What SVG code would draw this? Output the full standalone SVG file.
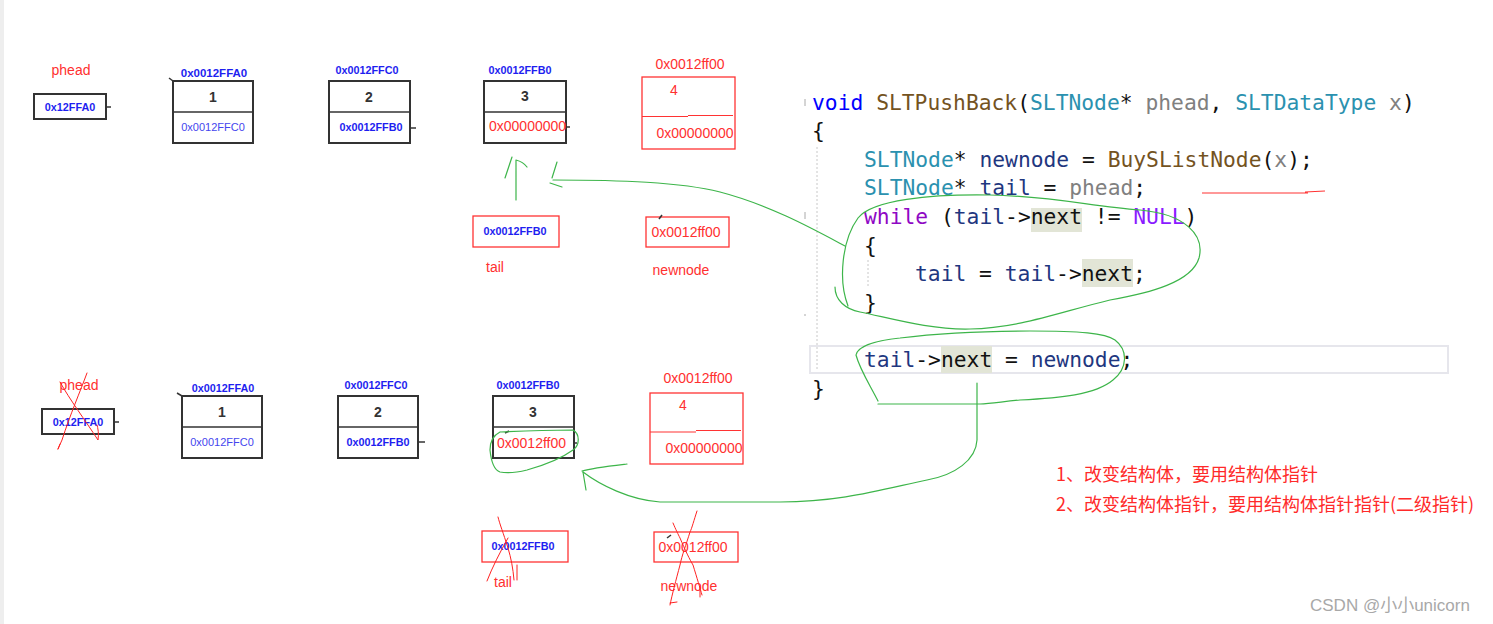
<svg xmlns="http://www.w3.org/2000/svg" width="1493" height="624" viewBox="0 0 1493 624">
<style>
.code{font-family:"DejaVu Sans Mono","Liberation Mono",monospace;font-size:21.3px;fill:#111}
.kw{fill:#0000ff}.fn{fill:#74531f}.ty{fill:#2b91af}.pm{fill:#808080}.lv{fill:#1f377f}.ctl{fill:#8f08c4}.mac{fill:#8a1bff}
.box{fill:none;stroke:#333;stroke-width:2}
.div{stroke:#333;stroke-width:1.6}
.rbox{fill:none;stroke:#f33;stroke-width:1.3}
.rdiv{stroke:#f33;stroke-width:1.2}
.lab{font-family:"Liberation Sans",Arial,sans-serif;font-size:10.8px;font-weight:bold;fill:#1e1ef0;text-anchor:middle}
.addr{font-family:"Liberation Sans",Arial,sans-serif;font-size:11px;fill:#4545ee;text-anchor:middle}
.num{font-family:"Liberation Sans",Arial,sans-serif;font-size:14px;font-weight:bold;fill:#333;text-anchor:middle}
.red{font-family:"Liberation Sans",Arial,sans-serif;font-size:14px;fill:#ff3030}
.mid{text-anchor:middle}
.tick{stroke:#333;stroke-width:1.5}
.g{fill:none;stroke:#3db54a;stroke-width:1.2;stroke-linecap:round}
.x{fill:none;stroke:#f22;stroke-width:1;stroke-linecap:round}
.hl{fill:#e2e5d6}
.cn{font-family:"Noto Sans CJK SC",sans-serif;font-size:18px;fill:#ff2a2a}
</style>
<rect x="0" y="0" width="1493" height="624" fill="#fff"/>
<rect x="0" y="0" width="4" height="624" fill="#eeeeee"/>

<!-- top row -->
<g id="phead-top">
<text class="red mid" x="71" y="75">phead</text>
<rect class="box" x="34" y="94" width="72" height="25"/>
<text class="lab" x="70" y="111">0x12FFA0</text>
<line class="tick" x1="106" y1="107" x2="111" y2="107"/>
</g>
<g id="node1-top">
<text class="lab" x="214" y="77" style="font-size:11.5px">0x0012FFA0</text>
<rect class="box" x="173" y="81" width="80" height="62"/>
<line class="div" x1="173" y1="112" x2="253" y2="112"/>
<path class="tick" d="M169,78 L173,81"/>
<text class="num" x="213" y="102">1</text>
<text class="addr" x="213" y="131">0x0012FFC0</text>
</g>
<g id="node2-top">
<text class="lab" x="367" y="74">0x0012FFC0</text>
<rect class="box" x="329" y="81" width="81" height="62"/>
<line class="div" x1="329" y1="112" x2="410" y2="112"/>
<text class="num" x="369" y="102">2</text>
<text class="lab" x="371" y="131">0x0012FFB0</text>
<line class="tick" x1="410" y1="128" x2="416" y2="128"/>
</g>
<g id="node3-top">
<text class="lab" x="520" y="74">0x0012FFB0</text>
<rect class="box" x="484" y="81" width="82" height="62"/>
<line class="div" x1="484" y1="112" x2="566" y2="112"/>
<text class="num" x="525" y="101">3</text>
<text class="red" x="489" y="131">0x00000000</text>
<line class="tick" x1="566" y1="127" x2="570" y2="127"/>
</g>
<g id="node4-top">
<text class="red mid" x="690" y="69">0x0012ff00</text>
<rect class="rbox" x="642" y="77" width="93" height="72"/>
<path class="rdiv" d="M642,116.5 L688,116.5 M688,115.5 L733,115.5"/>
<text class="red mid" x="674" y="95">4</text>
<text class="red mid" x="695" y="138">0x00000000</text>
</g>
<g id="tail-top">
<rect class="rbox" x="473" y="216" width="86" height="31"/>
<text class="lab" x="515" y="235">0x0012FFB0</text>
<text class="red mid" x="495" y="272">tail</text>
</g>
<g id="newnode-top">
<rect class="rbox" x="646" y="217" width="83" height="30"/>
<path class="tick" d="M659,219 L662,215"/>
<text class="red mid" x="686" y="237">0x0012ff00</text>
<text class="red mid" x="681" y="275">newnode</text>
</g>

<!-- bottom row -->
<g id="phead-bottom">
<text class="red mid" x="79" y="390">phead</text>
<rect class="box" x="42" y="409" width="72" height="25"/>
<text class="lab" x="78" y="426">0x12FFA0</text>
<line class="tick" x1="114" y1="422" x2="119" y2="422"/>
<path class="x" d="M87,373 C80,392 70,415 62,440 L58,449 M58,449 L60,444"/>
<path class="x" d="M60,382 C70,400 85,420 98,440 C99,434 98,428 97,425"/>
</g>
<g id="node1-bottom">
<text class="lab" x="223" y="392">0x0012FFA0</text>
<rect class="box" x="182" y="396" width="80" height="62"/>
<line class="div" x1="182" y1="427" x2="262" y2="427"/>
<path class="tick" d="M177,393 L182,396"/>
<text class="num" x="222" y="417">1</text>
<text class="addr" x="222" y="446">0x0012FFC0</text>
</g>
<g id="node2-bottom">
<text class="lab" x="376" y="389">0x0012FFC0</text>
<rect class="box" x="338" y="396" width="80" height="62"/>
<line class="div" x1="338" y1="427" x2="418" y2="427"/>
<text class="num" x="378" y="417">2</text>
<text class="lab" x="378" y="446">0x0012FFB0</text>
<line class="tick" x1="418" y1="442" x2="425" y2="442"/>
</g>
<g id="node3-bottom">
<text class="lab" x="528" y="389">0x0012FFB0</text>
<rect class="box" x="493" y="396" width="81" height="62"/>
<line class="div" x1="493" y1="427" x2="574" y2="427"/>
<text class="num" x="533" y="417">3</text>
<path class="tick" d="M505,433 L509,431"/>
<text class="red" x="497" y="448">0x0012ff00</text>
<line class="tick" x1="574" y1="443" x2="577" y2="443"/>
</g>
<g id="node4-bottom">
<text class="red mid" x="698" y="383">0x0012ff00</text>
<rect class="rbox" x="650" y="393" width="93" height="71"/>
<path class="rdiv" d="M650,432 L696,432 M696,430.5 L741,430.5"/>
<text class="red mid" x="683" y="410">4</text>
<text class="red mid" x="704" y="453">0x00000000</text>
</g>
<g id="tail-bottom">
<rect class="rbox" x="482" y="531" width="86" height="31"/>
<text class="lab" x="523" y="550">0x0012FFB0</text>
<text class="red mid" x="503" y="587">tail</text>
<path class="x" d="M498,517 C500,525 503,532 508,548 C511,558 513,568 514,580"/>
<path class="x" d="M508,538 C500,552 492,568 487,581"/>
<path class="x" d="M517,565 L517,580"/>
</g>
<g id="newnode-bottom">
<rect class="rbox" x="654" y="532" width="84" height="30"/>
<path class="tick" d="M667,538 L671,535"/>
<text class="red mid" x="693" y="552">0x0012ff00</text>
<text class="red mid" x="689" y="591">newnode</text>
<path class="x" d="M697,511 C694,520 692,528 690,532 C686,545 682,555 680,565 C676,580 672,595 670,605 M670,603 L677,602"/>
<path class="x" d="M673,523 C676,530 678,534 680,538 C685,550 690,560 693,565 C697,578 700,588 702,595"/>
<path class="x" d="M700,587 L700,597"/>
</g>

<!-- code -->
<g id="code">
<rect x="810" y="346" width="638" height="27" fill="none" stroke="#e6e6ec" stroke-width="2"/>
<line x1="817" y1="147" x2="817" y2="370" stroke="#c8c8c8" stroke-width="1" stroke-dasharray="2,2"/>
<line x1="868" y1="260" x2="868" y2="288" stroke="#c8c8c8" stroke-width="1" stroke-dasharray="2,2"/>
<path d="M805,99 L805,106 M805,212 L805,219 M804,315 L806,315" stroke="#aaa" stroke-width="1"/>
<rect class="hl" x="1031" y="208" width="51" height="24"/>
<rect class="hl" x="1082" y="259" width="51" height="28"/>
<rect class="hl" x="941" y="346" width="51" height="27"/>
<text class="code" x="812" y="110" xml:space="preserve"><tspan class="kw">void</tspan> <tspan class="fn">SLTPushBack</tspan>(<tspan class="ty">SLTNode</tspan>* <tspan class="pm">phead</tspan>, <tspan class="ty">SLTDataType</tspan> <tspan class="pm">x</tspan>)</text>
<text class="code" x="812" y="138">{</text>
<text class="code" x="864" y="167" xml:space="preserve"><tspan class="ty">SLTNode</tspan>* <tspan class="lv">newnode</tspan> = <tspan class="fn">BuySListNode</tspan>(<tspan class="pm">x</tspan>);</text>
<text class="code" x="864" y="195" xml:space="preserve"><tspan class="ty">SLTNode</tspan>* <tspan class="lv">tail</tspan> = <tspan class="pm">phead</tspan>;</text>
<text class="code" x="864" y="224" xml:space="preserve"><tspan class="ctl">while</tspan> (<tspan class="lv">tail</tspan>-&gt;next != <tspan class="mac">NULL</tspan>)</text>
<text class="code" x="864" y="253">{</text>
<text class="code" x="915" y="281" xml:space="preserve"><tspan class="lv">tail</tspan> = <tspan class="lv">tail</tspan>-&gt;next;</text>
<text class="code" x="864" y="310">}</text>
<text class="code" x="864" y="367" xml:space="preserve"><tspan class="lv">tail</tspan>-&gt;next = <tspan class="lv">newnode</tspan>;</text>
<text class="code" x="812" y="396">}</text>
<path d="M1202,193 L1308,193 M1305,192 L1325,191" stroke="#f33" stroke-width="1.2" fill="none"/>
</g>

<!-- connectors -->
<g id="connectors">
<path class="g" d="M516,200 L516,160 M505,178 L512,157 M516,160 C520,161 524,163 527,167"/>
<path class="g" d="M848,306 C838,280 842,240 858,218 C872,200 930,194 990,195 C1050,196 1090,206 1140,210 C1185,214 1205,235 1199,258 C1192,282 1150,293 1110,300 C1060,312 1020,328 970,329 C930,330 890,318 860,312 C845,309 835,300 835,287"/>
<path class="g" d="M845,246 C815,230 770,205 720,192 C680,182 620,180 553,180"/>
<path class="g" d="M557,162 L552,178 M550,183 L562,187"/>
<path class="g" d="M878,401 C870,385 860,370 856,355 C858,345 880,340 900,338 C940,333 990,331 1030,331 C1080,331 1105,333 1115,340 C1128,350 1128,368 1113,380 C1095,395 1060,398 1020,400 C1000,402 990,404 980,404 L878,404"/>
<path class="g" d="M977,383 L977,440 C976,460 955,475 927,480 C880,490 840,502 780,502 L660,502 C630,500 600,485 583,472"/>
<path class="g" d="M627,464 C610,466 592,468 582,471 M583,472 L586,490"/>
<path class="g" d="M500,432 C520,431 550,430 573,430 C580,434 580,445 573,450 C562,458 545,465 527,470 C515,473 505,473 500,472 C494,470 491,460 490,450 C490,442 492,436 500,432"/>
</g>

<g id="notes">
<text class="cn" x="1056" y="481">1、改变结构体，要用结构体指针</text>
<text class="cn" x="1056" y="511">2、改变结构体指针，要用结构体指针指针(二级指针)</text>
</g>
<text x="1310" y="611" style="font-family:'Liberation Sans','Noto Sans CJK SC',sans-serif;font-size:17px;fill:#a8a8a8">CSDN @小小unicorn</text>
</svg>
